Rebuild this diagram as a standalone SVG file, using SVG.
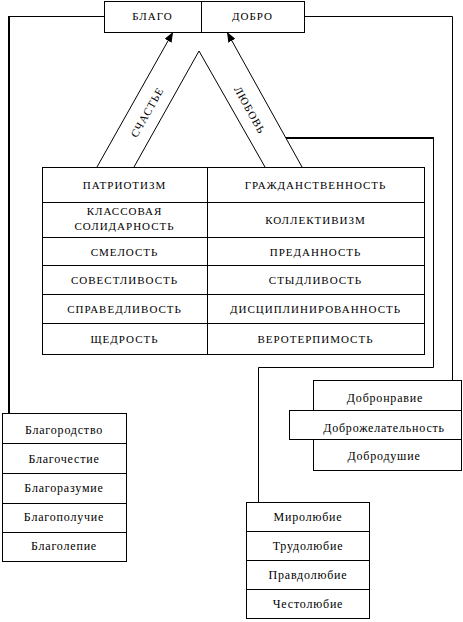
<svg xmlns="http://www.w3.org/2000/svg" width="463" height="622" viewBox="0 0 463 622">
<defs>
<marker id="ah" viewBox="0 0 10 8" refX="10" refY="4" markerWidth="10" markerHeight="8" markerUnits="userSpaceOnUse" orient="auto">
<path d="M0,0 L10,4 L0,8 Z" fill="#000"/>
</marker>
</defs>
<g id="connectors" fill="none" stroke="#000" stroke-width="1">
<polyline points="104,16.5 9,16.5"/>
<line stroke-width="2" x1="9" y1="16" x2="9" y2="413"/>
<polyline points="304,16.5 452.5,16.5 452.5,380"/>
<line x1="97" y1="167" x2="173" y2="32" marker-end="url(#ah)"/>
<line x1="302" y1="167" x2="227" y2="32" marker-end="url(#ah)"/>
<polyline points="134,167 199,51 265,167"/>
<line stroke-width="2" x1="286" y1="138" x2="434" y2="138"/>
<polyline points="433.5,138 433.5,367.5 258.5,367.5 258.5,502"/>
<g stroke="none" fill="#000" font-family="Liberation Serif" font-size="11" letter-spacing="1" text-anchor="middle">
<text transform="translate(147,112) rotate(-60.6)" y="4">СЧАСТЬЕ</text>
<text transform="translate(250,110) rotate(61)" y="4">ЛЮБОВЬ</text>
</g>
</g>
<g id="top">
<g fill="#fff" stroke="#000">
<rect x="104.5" y="1.5" width="200" height="31"/>
<line x1="201.5" y1="1.5" x2="201.5" y2="32.5"/>
</g>
<g fill="#000" font-family="Liberation Serif" font-size="11" letter-spacing="1" text-anchor="middle">
<text x="152.5" y="20">БЛАГО</text>
<text x="252.5" y="20">ДОБРО</text>
</g>
</g>
<g id="table">
<g fill="#fff" stroke="#000">
<rect x="42.5" y="167.5" width="382" height="187"/>
<line x1="207.5" y1="167.5" x2="207.5" y2="354.5"/>
<line x1="42.5" y1="202.5" x2="424.5" y2="202.5"/>
<line x1="42.5" y1="237.5" x2="424.5" y2="237.5"/>
<line x1="42.5" y1="265.5" x2="424.5" y2="265.5"/>
<line x1="42.5" y1="294.5" x2="424.5" y2="294.5"/>
<line x1="42.5" y1="323.5" x2="424.5" y2="323.5"/>
</g>
<g fill="#000" font-family="Liberation Serif" font-size="11" letter-spacing="1" text-anchor="middle">
<text x="124.5" y="189">ПАТРИОТИЗМ</text>
<text x="315.5" y="189">ГРАЖДАНСТВЕННОСТЬ</text>
<text x="124.5" y="215">КЛАССОВАЯ</text>
<text x="124.5" y="230">СОЛИДАРНОСТЬ</text>
<text x="315.5" y="224">КОЛЛЕКТИВИЗМ</text>
<text x="124.5" y="256">СМЕЛОСТЬ</text>
<text x="315.5" y="256">ПРЕДАННОСТЬ</text>
<text x="124.5" y="284">СОВЕСТЛИВОСТЬ</text>
<text x="315.5" y="284">СТЫДЛИВОСТЬ</text>
<text x="124.5" y="313">СПРАВЕДЛИВОСТЬ</text>
<text x="315.5" y="313">ДИСЦИПЛИНИРОВАННОСТЬ</text>
<text x="124.5" y="343">ЩЕДРОСТЬ</text>
<text x="315.5" y="343">ВЕРОТЕРПИМОСТЬ</text>
</g>
</g>
<g id="blago">
<g fill="#fff" stroke="#000">
<rect x="2.5" y="413.5" width="124" height="148"/>
<line x1="2.5" y1="443.5" x2="126.5" y2="443.5"/>
<line x1="2.5" y1="473.5" x2="126.5" y2="473.5"/>
<line x1="2.5" y1="503.5" x2="126.5" y2="503.5"/>
<line x1="2.5" y1="532.5" x2="126.5" y2="532.5"/>
</g>
<g fill="#000" font-family="Liberation Serif" font-size="12" letter-spacing="0.8" text-anchor="middle">
<text x="64" y="434">Благородство</text>
<text x="64" y="463">Благочестие</text>
<text x="64" y="492">Благоразумие</text>
<text x="64" y="521">Благополучие</text>
<text x="64" y="550">Благолепие</text>
</g>
</g>
<g id="dobro">
<g fill="#fff" stroke="#000">
<rect x="313.5" y="380.5" width="148" height="90"/>
<rect x="289.5" y="410.5" width="172" height="29"/>
</g>
<g fill="#000" font-family="Liberation Serif" font-size="12" letter-spacing="0.8" text-anchor="middle">
<text x="385" y="402">Добронравие</text>
<text x="384" y="432">Доброжелательность</text>
<text x="384" y="460">Добродушие</text>
</g>
</g>
<g id="lyubie">
<g fill="#fff" stroke="#000">
<rect x="246.5" y="502.5" width="123" height="116"/>
<line x1="246.5" y1="531.5" x2="369.5" y2="531.5"/>
<line x1="246.5" y1="560.5" x2="369.5" y2="560.5"/>
<line x1="246.5" y1="589.5" x2="369.5" y2="589.5"/>
</g>
<g fill="#000" font-family="Liberation Serif" font-size="12" letter-spacing="0.8" text-anchor="middle">
<text x="308" y="521">Миролюбие</text>
<text x="308" y="550">Трудолюбие</text>
<text x="308" y="579">Правдолюбие</text>
<text x="308" y="608">Честолюбие</text>
</g>
</g>
</svg>
